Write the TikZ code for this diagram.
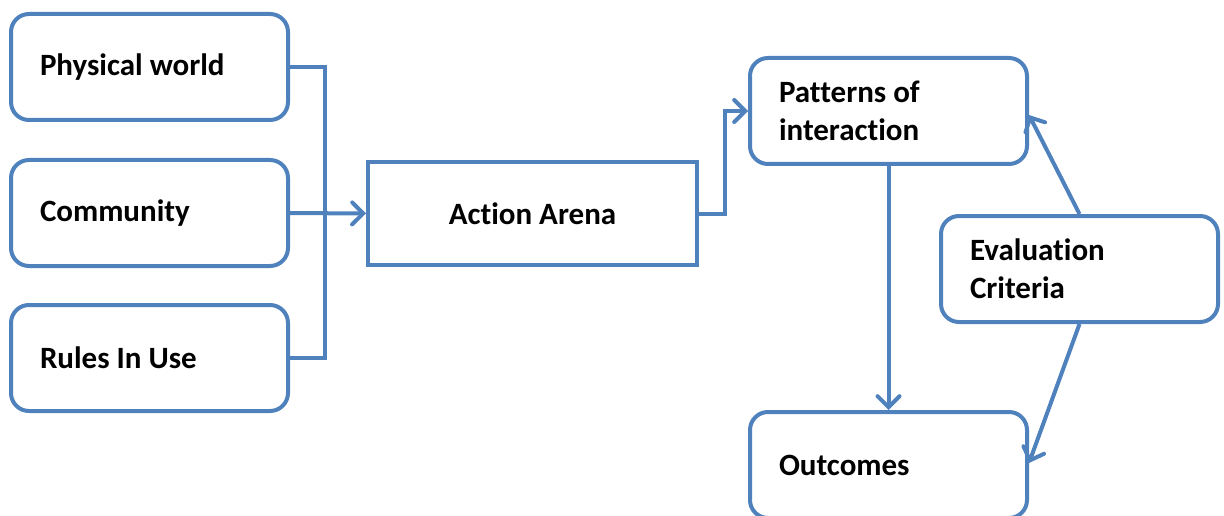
\documentclass[tikz,border=0pt]{standalone}
\usepackage{fontspec}
\setmainfont{Carlito}[Ligatures=NoCommon]
\usetikzlibrary{arrows.meta}
\definecolor{ob}{RGB}{79,129,189}
\begin{document}
\begin{tikzpicture}[x=1pt,y=-1pt,
  box/.style={draw=ob, line width=4pt, rounded corners=18pt, minimum height=106pt,
    minimum width=277pt, text width=219pt, inner xsep=29pt, inner ysep=0pt, align=flush left,
    font=\bfseries\fontsize{31}{38}\selectfont, anchor=north west},
  sqbox/.style={draw=ob, line width=4pt, minimum height=103pt, minimum width=329pt,
    align=center, font=\bfseries\fontsize{31}{38}\selectfont, anchor=north west},
  conn/.style={draw=ob, line width=4pt},
  arr/.style={conn, -{Straight Barb[length=11pt,width=22pt,line cap=round]}}]
\useasboundingbox (0,0) rectangle (1224,516);
\node[box] (pw) at (9,12) {Physical world};
\node[box] (cm) at (9,158) {Community};
\node[box] (ru) at (9,303) {Rules In Use};
\node[sqbox] (aa) at (366,160) {Action Arena};
\node[box] (pi) at (748,56) {Patterns of\\interaction};
\node[box] (ev) at (939,214) {Evaluation\\Criteria};
\node[box] (oc) at (748,410) {Outcomes};
\coordinate (bus) at (325,0);
\draw[conn] (pw.east) -| (bus |- ru.east) -- (ru.east);
\draw[arr] (cm.east) -- (aa.west);
\draw[arr] (aa.east) -- ++(26,0) |- (pi.west);
\draw[arr] (pi.south) -- (oc.north);
\draw[arr] (ev.north) -- ([yshift=-4pt]pi.east);
\draw[arr] (ev.south) -- ([yshift=2pt]oc.east);
\end{tikzpicture}
\end{document}
